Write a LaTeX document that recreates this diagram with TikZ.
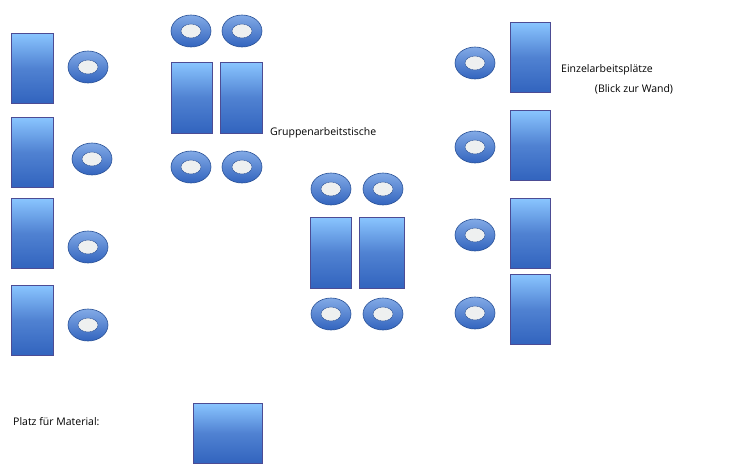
\documentclass[tikz,border=0pt]{standalone}
\usepackage{fontspec}
\setmainfont{Open Sans}
\begin{document}
\begin{tikzpicture}[x=1pt,y=-1pt,
  tbl/.style={draw=blue!40!black!70,line width=0.6pt,top color=blue!35!cyan!40!white!90!blue,bottom color={rgb,255:red,50;green,100;blue,190},middle color={rgb,255:red,80;green,130;blue,210}},
  ring/.style={draw={rgb,255:red,40;green,80;blue,150},line width=0.6pt,top color={rgb,255:red,130;green,170;blue,230},bottom color={rgb,255:red,50;green,100;blue,190}},
  hole/.style={draw={rgb,255:red,40;green,80;blue,150},line width=0.4pt,fill={rgb,255:red,238;green,240;blue,240}},
  lbl/.style={font=\fontsize{10.5}{12}\selectfont,inner sep=0pt}]
\useasboundingbox (0,0) rectangle (740,472);
\fill[white] (0,0) rectangle (740,472);
\newcommand\rg[2]{\shade[ring] (#1,#2) ellipse [x radius=20,y radius=16];\draw[hole] (#1,#2) ellipse [x radius=10,y radius=7];}
\newcommand\tb[4]{\shade[tbl] (#1,#2) rectangle (#3,#4);}
% left column
\tb{11}{33}{53}{103}\tb{11}{117}{53}{187}\tb{11}{198}{53}{268}\tb{11}{285}{53}{355}
\rg{88}{67}\rg{92}{159}\rg{88}{247}\rg{88}{325}
% group 1
\rg{191}{31}\rg{242}{31}\rg{191}{167}\rg{242}{167}
\tb{171}{62}{212}{133}\tb{220}{62}{262}{133}
% group 2
\rg{331}{189}\rg{383}{189}\rg{331}{314}\rg{383}{314}
\tb{310}{217}{351}{288}\tb{359}{217}{404}{288}
% right column
\rg{475}{63}\rg{475}{147}\rg{475}{235}\rg{475}{313}
\tb{510}{22}{550}{92}\tb{510}{110}{550}{180}\tb{510}{198}{550}{268}\tb{510}{274}{550}{344}
% material
\tb{193}{403}{262}{463}
\node[lbl,anchor=west] (e1) at (561,70) {Einzelarbeitsplätze};
\node[lbl] (e2) at (634,89) {(Blick zur Wand)};
\node[lbl,anchor=west] (g) at (270,133) {Gruppenarbeitstische};
\node[lbl,anchor=west] (p) at (13,422) {Platz für Material:};
\end{tikzpicture}
\end{document}
